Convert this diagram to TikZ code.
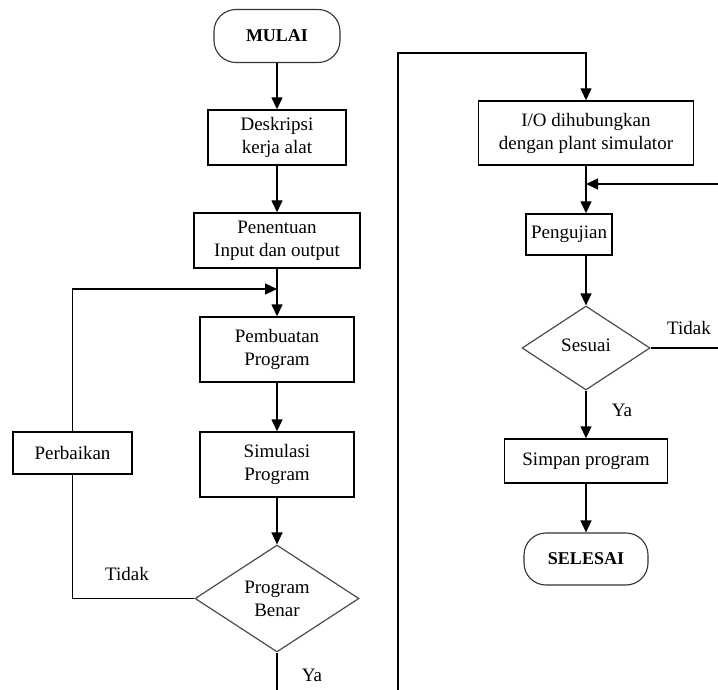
\documentclass[tikz,border=0pt]{standalone}
\usepackage{fontspec}
\setmainfont{Liberation Serif}
\usetikzlibrary{shapes.geometric,arrows.meta}
\begin{document}
\begin{tikzpicture}[x=1pt,y=-1pt,
  every node/.style={font=\fontsize{19}{23}\selectfont},
  box/.style={draw,line width=1.4pt,rectangle,inner sep=0pt,align=center},
  term/.style={draw,line width=1.1pt,draw=black!80,rectangle,rounded corners=22pt,inner sep=0pt,align=center,font=\fontsize{18}{20}\selectfont\bfseries},
  dec/.style={draw,line width=1.2pt,draw=black!70,diamond,aspect=1.5,inner sep=0pt,align=center},
  lbl/.style={inner sep=0pt},
  line/.style={line width=1.4pt},
  arr/.style={line width=1.4pt,-{Triangle[length=12pt,width=11pt]}}]
\useasboundingbox (0,0) rectangle (718,690);
\fill[white] (0,0) rectangle (718,690);

% left column
\node[term,minimum width=126pt,minimum height=53pt] (mulai) at (277,36) {MULAI};
\node[box,minimum width=138pt,minimum height=55pt] (desk) at (277,137.5) {Deskripsi\\kerja alat};
\node[box,minimum width=166pt,minimum height=55pt] (pen) at (277,240.5) {Penentuan\\Input dan output};
\node[box,minimum width=154pt,minimum height=65pt] (pemb) at (277,349.5) {Pembuatan\\Program};
\node[box,minimum width=154pt,minimum height=65pt] (simu) at (277,464.5) {Simulasi\\Program};
\node[dec,minimum width=164pt,minimum height=107pt] (benar) at (277,598.5) {Program\\Benar};
\node[box,minimum width=119pt,minimum height=42pt] (perb) at (72.5,453) {Perbaikan};
\coordinate (j1) at (277,289);
\coordinate (b1) at (277,690);
\node[lbl] (tidak1) at (127,574) {Tidak};
\node[lbl] (ya1) at (312,675) {Ya};

\draw[arr] (mulai.south) -- (desk.north);
\draw[arr] (desk.south) -- (pen.north);
\draw[arr] (pen.south) -- (pemb.north);
\draw[arr] (pemb.south) -- (simu.north);
\draw[arr] (simu.south) -- (benar.north);
\draw[line] (benar.west) -| (perb.south);
\draw[arr] (perb.north) |- (j1);
\draw[line] (benar.south) -- (b1);

% right column
\coordinate (b2) at (398,690);
\coordinate (t2) at (398,53);
\node[box,minimum width=215pt,minimum height=64pt] (io) at (586,133) {I/O dihubungkan\\dengan plant simulator};
\node[box,minimum width=86pt,minimum height=41pt] (peng) at (569,234.5) {Pengujian};
\node[dec,minimum width=128pt,minimum height=84pt] (ses) at (586,348) {\raisebox{5pt}{Sesuai}};
\node[box,minimum width=163pt,minimum height=44pt] (simpan) at (586,461) {Simpan program};
\node[term,minimum width=124pt,minimum height=52pt] (selesai) at (586,559) {SELESAI};
\coordinate (j2) at (586,184);
\coordinate (r1) at (718,184);
\coordinate (r2) at (718,348);
\node[lbl] (tidak2) at (689,328) {Tidak};
\node[lbl] (ya2) at (622,410) {Ya};

\draw[arr] (b2) -- (t2) -| (io.north);
\draw[arr] (io.south) -- (io.south |- peng.north);
\draw[arr] (r1) -- (j2);
\draw[arr] (ses.north |- peng.south) -- (ses.north);
\draw[line] (ses.east) -- (r2);
\draw[arr] (ses.south) -- (simpan.north);
\draw[arr] (simpan.south) -- (selesai.north);
\end{tikzpicture}
\end{document}
